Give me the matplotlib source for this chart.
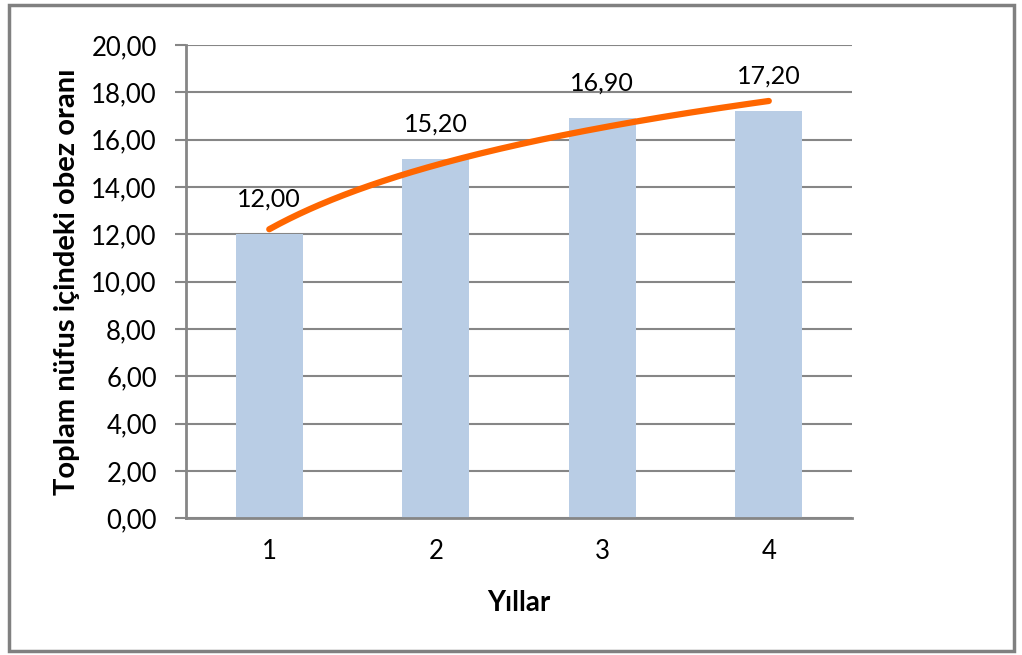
import numpy as np
import matplotlib.pyplot as plt
from matplotlib.ticker import FuncFormatter
from matplotlib.patches import Rectangle

plt.rcParams['font.family'] = ['Lato', 'DejaVu Sans']

# veri
yillar = [1, 2, 3, 4]
oranlar = [12.00, 15.20, 16.90, 17.20]
y_ticks = [0, 2, 4, 6, 8, 10, 12, 14, 16, 18, 20]

grid_renk = '#868686'
bar_renk = '#B9CDE5'
trend_renk = '#FF6600'

fig = plt.figure(figsize=(10.22, 6.55), dpi=100)
ax = fig.add_axes([0.182, 0.209, 0.6517, 0.722])

ax.bar(yillar, oranlar, width=0.4, color=bar_renk, zorder=2)

# logaritmik trend çizgisi (y = a*ln(x) + b)
a, b = np.polyfit(np.log(yillar), oranlar, 1)
xs = np.linspace(yillar[0], yillar[-1], 200)
ax.plot(xs, a * np.log(xs) + b, color=trend_renk, lw=4.5, solid_capstyle='round', zorder=3)

for x, y in zip(yillar, oranlar):
    ax.annotate(f'{y:.2f}'.replace('.', ','), (x, y), xytext=(0, 17),
                textcoords='offset points', ha='center', va='bottom', fontsize=18)

ax.set_xlim(0.5, 4.5)
ax.set_ylim(0, 20)
ax.set_yticks(y_ticks)
ax.yaxis.set_major_formatter(FuncFormatter(lambda v, p: f'{v:.2f}'.replace('.', ',')))
ax.set_xticks(yillar)
ax.grid(axis='y', color=grid_renk, lw=1.5, zorder=1)
ax.tick_params(axis='y', length=8, width=1.5, color=grid_renk, labelsize=18.5, pad=13)
ax.tick_params(axis='x', length=0, labelsize=18.5, pad=15)
for s in ['top', 'right']:
    ax.spines[s].set_visible(False)
for s in ['left', 'bottom']:
    ax.spines[s].set_color(grid_renk)
    ax.spines[s].set_linewidth(2)

ax.set_xlabel('Yıllar', fontsize=20, fontweight='bold', labelpad=19)
ax.set_ylabel('Toplam nüfus içindeki obez oranı', fontsize=21, fontweight='bold', labelpad=8)

# dış çerçeve
fig.patches.append(Rectangle((0.009, 0.006), 0.983, 0.986, transform=fig.transFigure,
                             fill=False, edgecolor='#808080', lw=2.5))

fig.savefig('out.png', dpi=100)
